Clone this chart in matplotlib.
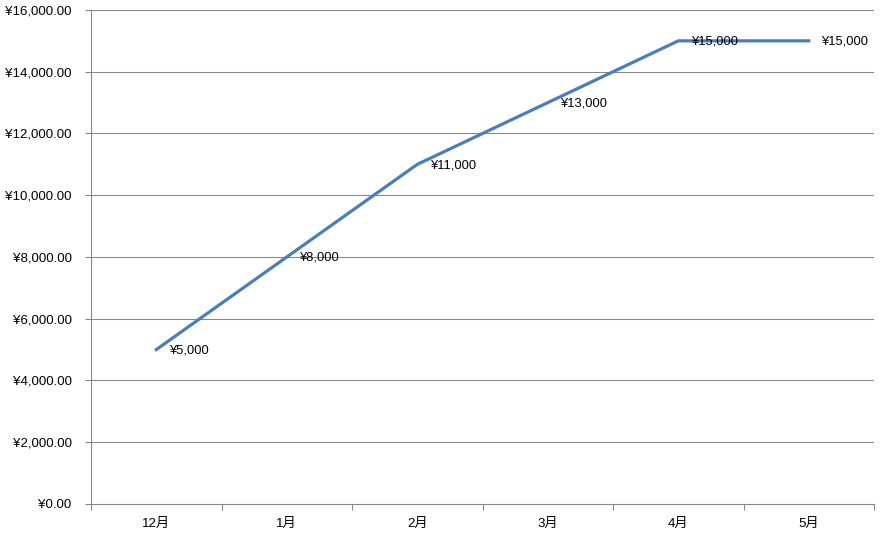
import matplotlib.pyplot as plt
from matplotlib.ticker import FuncFormatter, MultipleLocator, FixedLocator

plt.rcParams['font.family'] = ['Liberation Sans', 'Noto Sans CJK JP']

months = ['12月', '1月', '2月', '3月', '4月', '5月']
sales = [5000, 8000, 11000, 13000, 15000, 15000]

line_color = '#4a7ebb'
grid_color = '#868686'


def main():
    fig = plt.figure(figsize=(8.82, 5.4), dpi=100)
    ax = fig.add_axes([0.1032, 0.0667, 0.8878, 0.9148])

    x = list(range(len(months)))
    ax.plot(x, sales, color=line_color, linewidth=2.3, solid_joinstyle='miter')

    for xi, v in zip(x, sales):
        ax.annotate('¥{:,}'.format(v), (xi, v), xytext=(9, -0.5), textcoords='offset points',
                    ha='left', va='center', fontsize=9.3, color='black')

    ax.set_xlim(-0.5, len(months) - 0.5)
    ax.set_ylim(0, 16000)

    ax.yaxis.set_major_locator(MultipleLocator(2000))
    ax.yaxis.set_major_formatter(FuncFormatter(lambda v, p: '¥{:,.2f}'.format(v)))
    ax.grid(axis='y', color=grid_color, linewidth=0.75)
    ax.set_axisbelow(True)

    ax.set_xticks(x)
    ax.set_xticklabels(months)
    ax.xaxis.set_minor_locator(FixedLocator([i - 0.5 for i in range(len(months) + 1)]))
    ax.tick_params(axis='x', which='major', length=0, pad=10, labelsize=9.5)
    ax.tick_params(axis='x', which='minor', length=4, width=0.75, color=grid_color, direction='out')
    ax.tick_params(axis='y', length=4, width=0.75, color=grid_color, pad=10, labelsize=9.5)

    for s in ['top', 'right']:
        ax.spines[s].set_visible(False)
    for s in ['left', 'bottom']:
        ax.spines[s].set_color(grid_color)
        ax.spines[s].set_linewidth(0.75)

    fig.savefig('out.png', dpi=100)


if __name__ == '__main__':
    main()
